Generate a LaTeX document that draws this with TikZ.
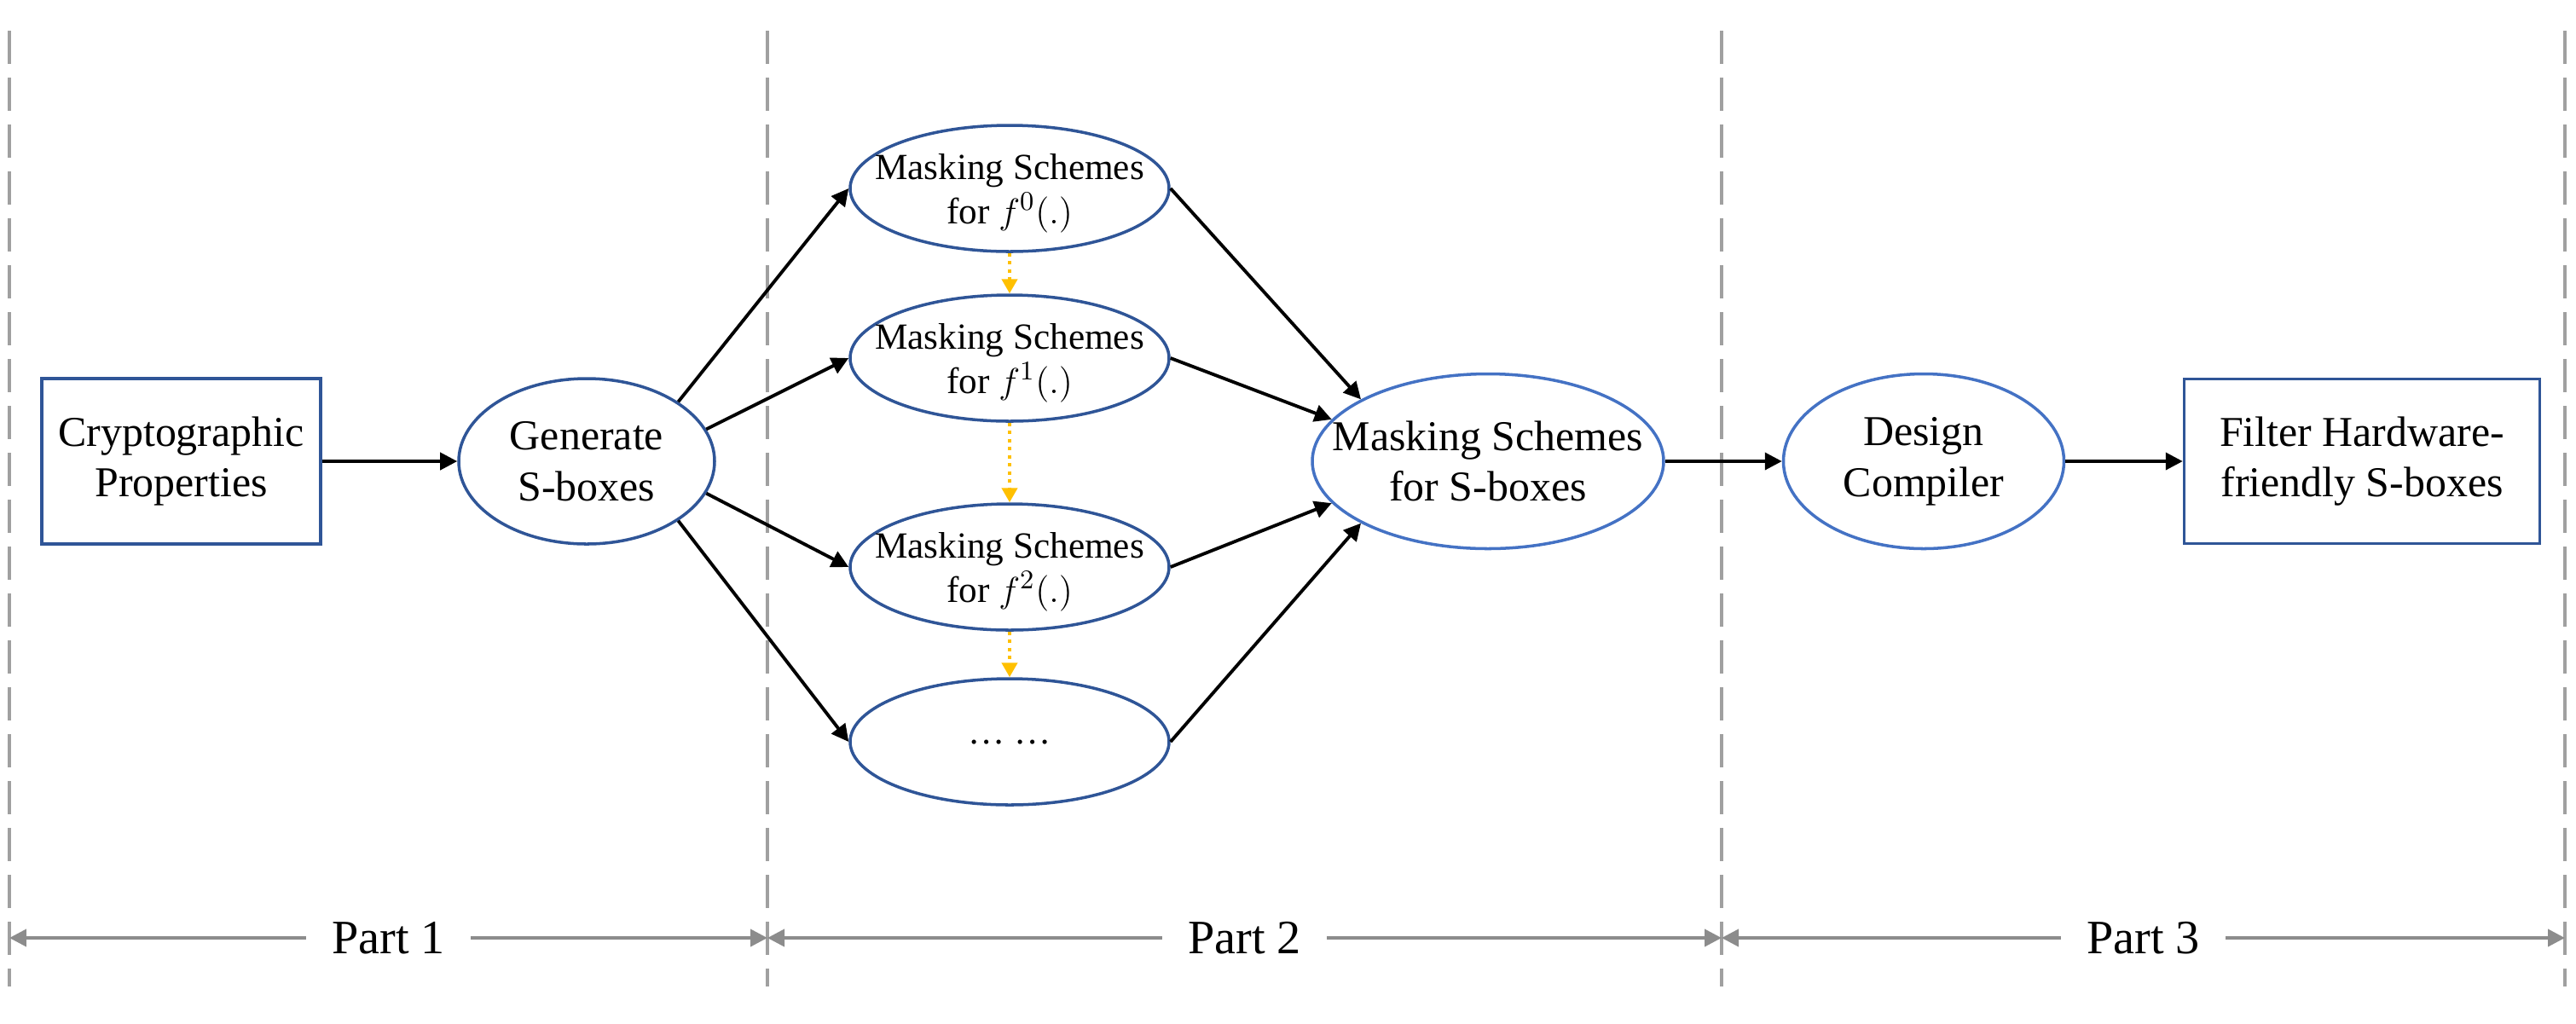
\documentclass[tikz,border=0pt]{standalone}
\usepackage{fontspec}
\setmainfont{Liberation Serif}
\usetikzlibrary{shapes.geometric,arrows.meta}
\definecolor{boxblue}{HTML}{2F5597}
\definecolor{lineblue}{HTML}{4472C4}
\definecolor{dotorange}{HTML}{FFC000}
\definecolor{divgray}{HTML}{A0A0A0}
\definecolor{partgray}{HTML}{8C8C8C}

\begin{document}
\begin{tikzpicture}[
        flow/.style={draw, line width=1.1pt, -{Triangle[length=0.2cm,width=0.2cm]}},
        next/.style={draw=dotorange, line width=1.3pt, dash pattern=on 1.2pt off 1.5pt,
            -{Triangle[length=0.17cm,width=0.18cm]}},
        divider/.style={draw=divgray, line width=1.1pt, dash pattern=on 0.39cm off 0.16cm},
        span/.style={draw=partgray, line width=1.1pt,
            {Triangle[length=0.2cm,width=0.2cm]}-{Triangle[length=0.2cm,width=0.2cm]}},
        partlabel/.style={fill=white, inner xsep=0.3cm, font=\fontsize{16}{19}\selectfont},
        box/.style={rectangle, draw=boxblue, line width=1pt, align=center,
            font=\fontsize{14.2}{17}\selectfont},
        oval/.style={ellipse, line width=1pt, inner sep=-0.5cm, align=center,
            font=\fontsize{14.2}{17}\selectfont},
        scheme/.style={oval, draw=boxblue, minimum width=3.74cm, minimum height=1.48cm,
            text depth=0pt, font=\fontsize{12.3}{14.8}\selectfont}]

    \useasboundingbox (0,0) rectangle (30.21,-12);

    % parts
    \foreach \n/\x in {0/0.11,1/9.00,2/20.19,3/30.08}{
        \coordinate (t\n) at (\x,-0.36);
        \coordinate (b\n) at (\x,-11.57);
        \coordinate (p\n) at (\x,-11.0);
        \draw[divider] (t\n) -- (b\n);
    }
    \draw[span] (p0) -- node[partlabel] {Part 1} (p1);
    \draw[span] (p1) -- node[partlabel] {Part 2} (p2);
    \draw[span] (p2) -- node[partlabel] {Part 3} (p3);

    % nodes
    \node[box, minimum width=3.27cm, minimum height=1.94cm] (props) at (2.125,-5.41)
        {Cryptographic\\Properties};
    \node[oval, draw=boxblue, minimum width=3.0cm, minimum height=1.94cm] (gen) at (6.88,-5.41)
        {Generate\\S-boxes};
    \node[scheme] (ms0) at (11.84,-2.21) {Masking Schemes\\for $f^{0}(.)$};
    \node[scheme] (ms1) at (11.84,-4.20) {Masking Schemes\\for $f^{1}(.)$};
    \node[scheme] (ms2) at (11.84,-6.65) {Masking Schemes\\for $f^{2}(.)$};
    \node[scheme] (msn) at (11.84,-8.70) {\dots\ \dots};
    \node[oval, draw=lineblue, minimum width=4.12cm, minimum height=2.05cm] (mss) at (17.45,-5.41)
        {Masking Schemes\\for S-boxes};
    \node[oval, draw=lineblue, minimum width=3.29cm, minimum height=2.05cm] (dc) at (22.56,-5.41)
        {Design\\Compiler};
    \node[box, minimum width=4.17cm, minimum height=1.93cm] (filter) at (27.70,-5.41)
        {Filter Hardware-\\friendly S-boxes};

    % connectors
    \draw[flow] (props) -- (gen);
    \foreach \i/\a in {0/33,1/15,2/-15,n/-33}
        \draw[flow] (gen.\a) -- (ms\i.west);
    \foreach \i/\a in {0/154,1/165,2/195,n/206}
        \draw[flow] (ms\i.east) -- (mss.\a);
    \draw[flow] (mss) -- (dc);
    \draw[flow] (dc) -- (filter);
    \draw[next] (ms0.south) -- (ms1.north);
    \draw[next] (ms1.south) -- (ms2.north);
    \draw[next] (ms2.south) -- (msn.north);
\end{tikzpicture}
\end{document}
